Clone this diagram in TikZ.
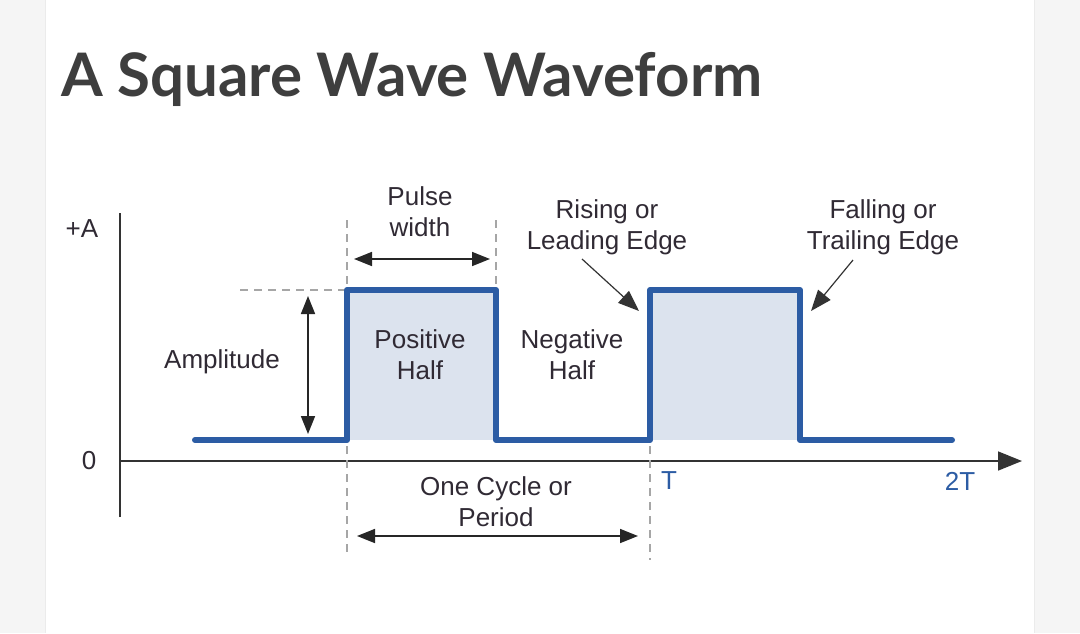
\documentclass[tikz,border=0pt]{standalone}
\usepackage{fontspec}
\setmainfont{Liberation Sans}
\newfontfamily\titlefont{Lato}
\usetikzlibrary{arrows.meta, positioning, calc}
\definecolor{wavblue}{RGB}{44,92,164}
\definecolor{wavfill}{RGB}{220,227,238}
\definecolor{txtdark}{RGB}{48,42,52}
\definecolor{titlegray}{RGB}{62,62,62}
\definecolor{pagegray}{RGB}{245,245,245}
\tikzset{
  sq wave/.style={
    draw=wavblue, line width=6pt, line join=round, line cap=round
  },
  sq fill/.style={
    fill=wavfill, draw=none
  },
  sq guide/.style={
    draw=black!35, line width=1.2pt, dash pattern=on 8pt off 6pt
  },
  sq dim/.style={
    {Triangle[length=18pt,width=14pt]}-{Triangle[length=18pt,width=14pt]},
    line width=1.6pt, draw=black!85
  },
  sq pointer/.style={
    -{Triangle[length=21pt,width=16pt]}, line width=1.2pt, draw=black!80
  },
  sq axis/.style={
    line width=1.6pt, draw=black!80
  },
  sq label/.style={
    font=\fontsize{26}{31}\selectfont, text=txtdark,
    align=center, inner sep=0pt
  },
  sq tick/.style={
    font=\fontsize{26}{30}\selectfont, text=wavblue, inner sep=0pt
  }
}
\begin{document}
\begin{tikzpicture}[x=1pt, y=-1pt]
  \useasboundingbox (0,0) rectangle (1080,633);
  % page and card
  \fill[pagegray] (0,0) rectangle (1080,633);
  \fill[white] (45,0) rectangle (1034,633);
  \draw[black!8] (45,0) -- (45,633) (1034,0) -- (1034,633);

  \node[anchor=base west, inner sep=0pt, text=titlegray,
        font=\titlefont\bfseries\fontsize{60}{70}\selectfont]
    (title) at (61,96) {A Square Wave Waveform};

  % wave corners
  \coordinate (w0) at (195,440);
  \coordinate (w1) at (347,440);
  \coordinate (w2) at (347,290);
  \coordinate (w3) at (496,290);
  \coordinate (w4) at (496,440);
  \coordinate (w5) at (650,440);
  \coordinate (w6) at (650,290);
  \coordinate (w7) at (800,290);
  \coordinate (w8) at (800,440);
  \coordinate (w9) at (952,440);

  % shaded halves
  \fill[sq fill] (w1) rectangle (w3);
  \fill[sq fill] (w5) rectangle (w7);

  % axes
  \coordinate (origin) at (120,461);
  \coordinate (ytop) at (120,213);
  \coordinate (ybot) at (120,517);
  \coordinate (xend) at (1022,461);
  \draw[sq axis] (ybot) -- (ytop);
  \draw[sq axis, -{Triangle[length=24pt,width=19pt]}] (origin) -- (xend);

  % guides
  \draw[sq guide] (347,220) -- (347,284);
  \draw[sq guide] (347,446) -- (347,556);
  \draw[sq guide] (496,220) -- (496,284);
  \draw[sq guide] (650,446) -- (650,560);
  \draw[sq guide] (240,290) -- (344,290);

  % the wave
  \draw[sq wave] (w0) -- (w1) -- (w2) -- (w3) -- (w4) -- (w5)
    -- (w6) -- (w7) -- (w8) -- (w9);

  % axis labels
  \node[sq label] (plusA) at (82,229) {+A};
  \node[sq label] (zero) at (89,461) {0};
  \node[sq tick] (tT) at (669,481) {T};
  \node[sq tick] (t2T) at (960,481) {2T};

  % amplitude
  \coordinate (ampTop) at (308,296);
  \coordinate (ampBot) at (308,434);
  \draw[sq dim] (ampTop) -- (ampBot);
  \node[sq label] (amp) at (222,362) {Amplitude};

  % pulse width
  \node[sq label] (pw) at (420,212) {Pulse\\width};
  \coordinate (pwL) at (354,259);
  \coordinate (pwR) at (490,259);
  \draw[sq dim] (pwL) -- (pwR);

  % halves
  \node[sq label] (posHalf) at (420,355) {Positive\\Half};
  \node[sq label] (negHalf) at (572,355) {Negative\\Half};

  % edges
  \node[sq label] (rising) at (607,227) {Rising or\\Leading Edge};
  \node[sq label] (falling) at (883,227) {Falling or\\Trailing Edge};
  \coordinate (riseTip) at (639,311);
  \coordinate (fallTip) at (811,311);
  \draw[sq pointer] (582,259) -- (riseTip);
  \draw[sq pointer] (853,260) -- (fallTip);

  % period
  \node[sq label] (cycle) at (496,502) {One Cycle or\\Period};
  \coordinate (perL) at (357,536);
  \coordinate (perR) at (638,536);
  \draw[sq dim] (perL) -- (perR);
\end{tikzpicture}
\end{document}
